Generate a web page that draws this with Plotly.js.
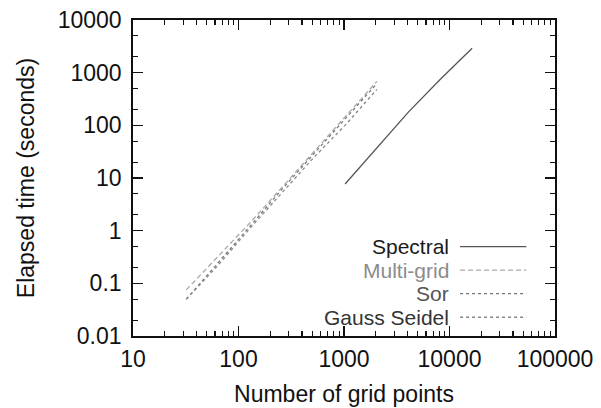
<!DOCTYPE html>
<html>
<head>
<meta charset="utf-8">
<script src="https://cdn.plot.ly/plotly-3.0.1.min.js"></script>
<style>html,body{margin:0;padding:0;background:#fff;}#chart{width:601px;height:408px;}</style>
</head>
<body>
<div id="chart"></div>
<script>
// Data
const spectralX = [1024, 2048, 4096, 8192, 16384];
const spectralY = [7.7, 38, 180, 750, 2900];
const gridX = [32, 64, 128, 256, 512, 1024, 2048];
const multigridY = [0.075, 0.33, 1.4, 6.5, 30, 145, 680];
const sorY = [0.05, 0.24, 1.2, 6, 28, 135, 620];
const gaussY = [0.05, 0.22, 1.1, 5.2, 24, 100, 480];
const seriesNames = ["Spectral", "Multi-grid", "Sor", "Gauss Seidel"];
const xTickVals = [10, 100, 1000, 10000, 100000];
const yTickVals = [0.01, 0.1, 1, 10, 100, 1000, 10000];

const lineStyles = [
  {color: '#555555', width: 1.3, dash: 'solid'},
  {color: '#aaaaaa', width: 1.3, dash: '5px,3px'},
  {color: '#777777', width: 1.3, dash: '3px,3px'},
  {color: '#888888', width: 1.3, dash: 'dot'}
];
const legendTextColors = ['#1a1a1a', '#8c8c8c', '#555555', '#333333'];

const traces = [
  {x: spectralX, y: spectralY, name: seriesNames[0], mode: 'lines', line: lineStyles[0]},
  {x: gridX, y: multigridY, name: seriesNames[1], mode: 'lines', line: lineStyles[1]},
  {x: gridX, y: sorY, name: seriesNames[2], mode: 'lines', line: lineStyles[2]},
  {x: gridX, y: gaussY, name: seriesNames[3], mode: 'lines', line: lineStyles[3]}
];

const FAM = "'Liberation Sans', Arial, sans-serif";
const FS = 23;
const LFS = 21;
const font = {family: FAM, size: FS, color: '#111'};

// Legend drawn on the right of its labels, as in the reference
const annotations = [];
const shapes = [];
const legTop = 0.2826; // paper y of first row
const legStep = 0.0744;
seriesNames.forEach((n, i) => {
  const yy = legTop - i * legStep;
  annotations.push({
    xref: 'paper', yref: 'paper', x: 0.750, y: yy, xanchor: 'right', yanchor: 'middle',
    borderpad: 0,
    text: n, showarrow: false, font: {family: FAM, size: LFS, color: legendTextColors[i]}
  });
  shapes.push({
    type: 'line', xref: 'paper', yref: 'paper', x0: 0.775, x1: 0.932, y0: yy, y1: yy,
    line: lineStyles[i]
  });
});

const layout = {
  width: 601, height: 408,
  margin: {l: 133, r: 46, t: 20, b: 72, pad: 0},
  paper_bgcolor: '#fff', plot_bgcolor: '#fff',
  showlegend: false,
  font: font,
  xaxis: {
    type: 'log', range: [1, 5], tickvals: xTickVals, ticktext: xTickVals.map(String),
    ticks: 'inside', ticklen: 10, tickwidth: 1.5, tickcolor: '#111',
    minor: {ticks: 'inside', ticklen: 5, tickwidth: 1.2, tickcolor: '#111', dtick: 'D1', showgrid: false},
    showline: true, linecolor: '#111', linewidth: 1.8, mirror: 'ticks',
    showgrid: false, zeroline: false,
    ticklabelstandoff: 2,
    tickfont: {family: FAM, size: FS, color: '#111'},
    title: {text: 'Number of grid points', font: {family: FAM, size: FS, color: '#111'}, standoff: 14}
  },
  yaxis: {
    type: 'log', range: [-2, 4], tickvals: yTickVals, ticktext: yTickVals.map(String),
    ticks: 'inside', ticklen: 10, tickwidth: 1.5, tickcolor: '#111',
    minor: {ticks: 'inside', ticklen: 5, tickwidth: 1.2, tickcolor: '#111', dtick: 'D2', showgrid: false},
    showline: true, linecolor: '#111', linewidth: 1.8, mirror: 'ticks',
    showgrid: false, zeroline: false,
    ticklabelstandoff: 5,
    tickfont: {family: FAM, size: FS, color: '#111'},
    title: {text: 'Elapsed time (seconds)', font: {family: FAM, size: FS, color: '#111'}, standoff: 16}
  },
  annotations: annotations,
  shapes: shapes
};

Plotly.newPlot('chart', traces, layout, {staticPlot: true, displayModeBar: false});
</script>
</body>
</html>
